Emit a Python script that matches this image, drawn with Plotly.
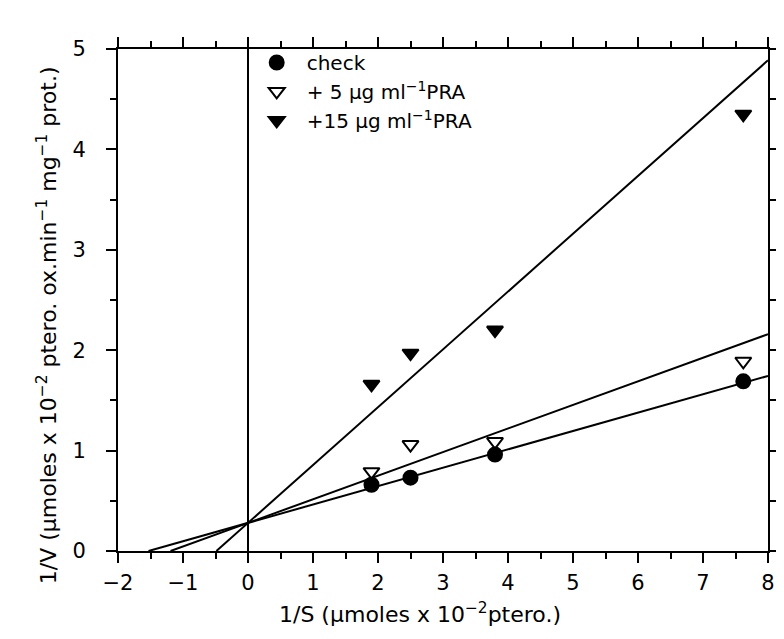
import plotly.graph_objects as go

# 1/S values (umoles x 10^-2 ptero.)
inv_s = [1.90, 2.50, 3.80, 7.62]

# 1/V values for each treatment
check_v = [0.66, 0.73, 0.96, 1.69]
pra5_v = [0.79, 1.06, 1.09, 1.89]
pra15_v = [1.66, 1.97, 2.20, 4.35]

series_names = ["check", "+ 5 μg ml<sup>−1</sup>PRA", "+15 μg ml<sup>−1</sup>PRA"]
series_values = [check_v, pra5_v, pra15_v]
series_symbols = ["circle", "triangle-down-open", "triangle-down"]

# Lineweaver-Burk fitted lines
fit_intercept = [0.28, 0.28, 0.28]
fit_slope = [0.183, 0.235, 0.576]
x_max = 8

x_ticks = [-2, -1, 0, 1, 2, 3, 4, 5, 6, 7, 8]
y_ticks = [0, 1, 2, 3, 4, 5]

x_title = "1/S (μmoles x 10<sup>−2</sup>ptero.)"
y_title = "1/V (μmoles x 10<sup>−2</sup> ptero. ox.min<sup>−1</sup> mg<sup>−1</sup> prot.)"

FONT = "DejaVu Sans, Liberation Sans, Arial, sans-serif"

fig = go.Figure()

# regression lines
for b, m in zip(fit_intercept, fit_slope):
    x0 = -b / m
    fig.add_trace(go.Scatter(
        x=[x0, x_max], y=[0, b + m * x_max],
        mode="lines", line=dict(color="black", width=2),
        showlegend=False, hoverinfo="skip"))

# data points
for name, vals, sym in zip(series_names, series_values, series_symbols):
    fig.add_trace(go.Scatter(
        x=inv_s, y=vals, mode="markers", name=name,
        marker=dict(symbol=sym, size=14, color="black",
                    line=dict(color="black", width=2))))

axis_common = dict(
    showgrid=False, showline=True, linecolor="black", linewidth=2,
    ticks="outside", ticklen=10, tickwidth=2, tickcolor="black",
    mirror="ticks",
    tickfont=dict(size=21, color="black", family=FONT),
    minor=dict(dtick=0.5, ticks="outside", ticklen=6, tickwidth=1.5,
               tickcolor="black", showgrid=False),
)

fig.update_layout(
    width=784, height=639,
    margin=dict(l=110, r=12, t=41, b=96),
    paper_bgcolor="white", plot_bgcolor="white",
    font=dict(family=FONT, color="black", size=21),
    xaxis=dict(
        range=[-2, 8], tickvals=x_ticks,
        zeroline=True, zerolinecolor="black", zerolinewidth=1.5,
        ticklabelstandoff=2,
        **axis_common),
    yaxis=dict(
        range=[0, 5], tickvals=y_ticks,
        zeroline=False,
        ticklabelstandoff=16,
        **axis_common),
    legend=dict(x=0.198, y=1.012, xanchor="left", yanchor="top",
                bgcolor="rgba(0,0,0,0)", font=dict(size=20, family=FONT),
                tracegroupgap=0, itemwidth=50),
    showlegend=True,
    annotations=[
        dict(text=x_title, xref="paper", yref="paper", x=0.464, y=-0.124,
             xanchor="center", yanchor="middle", showarrow=False,
             font=dict(size=22, family=FONT, color="black")),
        dict(text=y_title, xref="paper", yref="paper", x=-0.109, y=0.45,
             xanchor="center", yanchor="middle", showarrow=False,
             textangle=-90,
             font=dict(size=22, family=FONT, color="black")),
    ],
)

fig.write_html("out.html")
